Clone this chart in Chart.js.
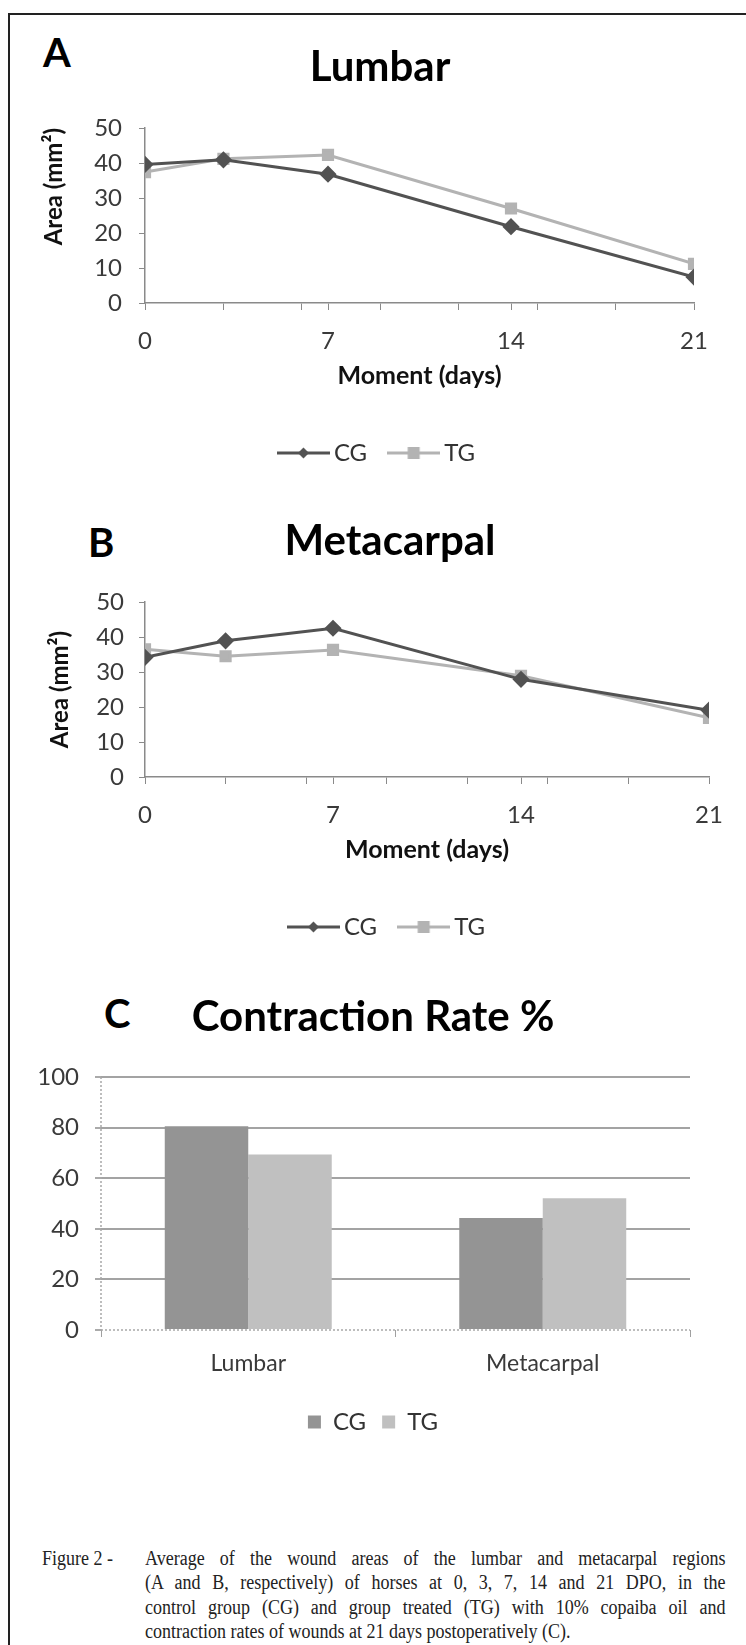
<!DOCTYPE html>
<html>
<head>
<meta charset="utf-8">
<script src="https://cdn.jsdelivr.net/npm/chart.js@4.4.1/dist/chart.umd.min.js"></script>
<style>
  html, body { margin: 0; padding: 0; background: #fff; width: 746px; height: 1645px; overflow: hidden; position: relative; }
  .frame { position: absolute; left: 8px; top: 13px; width: 760px; height: 1700px; border-top: 2px solid #222; border-left: 2px solid #222; }
  .cv { position: absolute; }
  .letter { position: absolute; font-family: Lato, sans-serif; font-weight: bold; font-size: 40px; line-height: 1; color: #000; }
  .cap { position: absolute; font-family: "Liberation Serif", "Times New Roman", serif; font-size: 20px; line-height: 24.3px; color: #222; }
  .capbody { position: absolute; left: 145px; top: 1546px; width: 645px; transform: scaleX(0.9); transform-origin: 0 0; }
  .capbody div { text-align: justify; text-align-last: justify; white-space: nowrap; }
  .capbody div.last { text-align-last: left; }
</style>
</head>
<body>
<div class="frame"></div>
<div class="letter" style="left:43px; top:32px;">A</div>
<div class="letter" style="left:88px; top:522px;">B</div>
<div class="letter" style="left:104px; top:993px;">C</div>

<canvas id="chartA" class="cv" style="left:20px; top:14px;" width="720" height="461"></canvas>
<canvas id="chartB" class="cv" style="left:30px; top:488px;" width="720" height="461"></canvas>
<canvas id="chartC" class="cv" style="left:20px; top:960px;" width="706" height="484"></canvas>

<div class="cap" style="left:42px; top:1546px; transform:scaleX(0.9); transform-origin:0 0;">Figure 2 -</div>
<div class="cap capbody">
  <div>Average of the wound areas of the lumbar and metacarpal regions</div>
  <div>(A and B, respectively) of horses at 0, 3, 7, 14 and 21 DPO, in the</div>
  <div>control group (CG) and group treated (TG) with 10% copaiba oil and</div>
  <div class="last">contraction rates of wounds at 21 days postoperatively (C).</div>
</div>

<script>
// data
var days = [0, 3, 7, 14, 21];
var lumbarCG = [39.6, 40.9, 36.8, 21.8, 7.4];
var lumbarTG = [37.4, 41.2, 42.3, 27.0, 11.2];
var metaCG = [34.2, 38.9, 42.5, 27.9, 19.1];
var metaTG = [36.5, 34.5, 36.3, 28.9, 16.9];
var xTickMarks = [0, 3, 6, 7, 9, 12, 14, 15, 18, 21];
var xTickLabels = [0, 7, 14, 21];
var rateCats = ['Lumbar', 'Metacarpal'];
var rateCG = [80.5, 44.3];
var rateTG = [69.4, 52.1];

var cgColor = '#525252';
var tgColor = '#b3b3b3';
var axisColor = '#8a8a8a';
var tickFont = { family: 'Lato', size: 24 };
var tickColor = '#3a3a3a';
var titleFont = { family: 'Lato', size: 42, weight: 'bold' };

Chart.defaults.font.family = 'Lato';
Chart.defaults.animation = false;

function toPoints(vals) {
    return vals.map(function (v, i) { return { x: days[i], y: v }; });
}

// empty axis on the right: keeps space there while title and legend stay centred on the canvas
function spacerAxis(w) {
    return {
        type: 'linear', position: 'right', display: true,
        ticks: { display: false }, grid: { display: false }, border: { display: false },
        afterFit: function (scale) { scale.width = w; }
    };
}

// small picture of line + marker for the legend
function legendMark(color, style) {
    var c = document.createElement('canvas');
    c.width = 53; c.height = 14;
    var g = c.getContext('2d');
    g.strokeStyle = color; g.lineWidth = 3;
    g.beginPath(); g.moveTo(0, 7); g.lineTo(53, 7); g.stroke();
    g.fillStyle = color;
    if (style === 'diamond') {
        g.beginPath(); g.moveTo(26.5, 1.5); g.lineTo(32, 7); g.lineTo(26.5, 12.5); g.lineTo(21, 7); g.closePath(); g.fill();
    } else {
        g.fillRect(20.5, 1, 12, 12);
    }
    return c;
}

function lineChart(id, title, cg, tg, yWidth, yTitlePad, yTickPad, rightW, yTitleAlign) {
    var marks = [legendMark(cgColor, 'diamond'), legendMark(tgColor, 'square')];
    return new Chart(document.getElementById(id), {
        type: 'line',
        data: {
            datasets: [{
                label: 'CG',
                data: toPoints(cg),
                xAxisID: 'x', yAxisID: 'y',
                borderColor: cgColor,
                backgroundColor: cgColor,
                borderWidth: 3,
                pointStyle: 'rectRot',
                pointRadius: 6.5,
                tension: 0
            }, {
                label: 'TG',
                data: toPoints(tg),
                xAxisID: 'x', yAxisID: 'y',
                borderColor: tgColor,
                backgroundColor: tgColor,
                borderWidth: 3,
                pointStyle: 'rect',
                pointRadius: 6.5,
                tension: 0
            }]
        },
        options: {
            responsive: false,
            layout: { padding: 0 },
            plugins: {
                title: {
                    display: true,
                    text: title,
                    color: '#000',
                    font: titleFont,
                    padding: { top: 28, bottom: 35.6 }
                },
                legend: {
                    position: 'bottom',
                    labels: {
                        usePointStyle: true,
                        pointStyleWidth: 37,
                        padding: 28,
                        color: '#333',
                        font: { family: 'Lato', size: 24 },
                        generateLabels: function (chart) {
                            return chart.data.datasets.map(function (ds, i) {
                                return { text: ds.label, pointStyle: marks[i], fillStyle: ds.borderColor,
                                         strokeStyle: ds.borderColor, lineWidth: 0, fontColor: '#333', datasetIndex: i };
                            });
                        }
                    }
                },
                tooltip: { enabled: false }
            },
            scales: {
                x: {
                    type: 'linear',
                    min: 0, max: 21,
                    afterBuildTicks: function (axis) {
                        axis.ticks = xTickMarks.map(function (v) { return { value: v }; });
                    },
                    afterFit: function (scale) { scale.height = 110; },
                    ticks: {
                        autoSkip: false,
                        maxRotation: 0,
                        padding: 17,
                        color: tickColor,
                        font: tickFont,
                        callback: function (v) { return xTickLabels.indexOf(v) >= 0 ? String(v) : ''; }
                    },
                    grid: { drawOnChartArea: false, drawTicks: true, tickLength: 7, color: axisColor },
                    border: { color: axisColor, width: 1.5 },
                    title: {
                        display: true,
                        text: 'Moment (days)',
                        color: '#111',
                        font: { family: 'Lato', size: 25, weight: 'bold' },
                        padding: { top: 8, bottom: 22 }
                    }
                },
                y: {
                    min: 0, max: 50,
                    afterFit: function (scale) { scale.width = yWidth; },
                    ticks: { stepSize: 10, padding: yTickPad, color: tickColor, font: tickFont },
                    grid: { drawOnChartArea: false, drawTicks: true, tickLength: 6, color: axisColor },
                    border: { color: axisColor, width: 1.5 },
                    title: {
                        display: true,
                        text: 'Area (mm²)',
                        align: yTitleAlign,
                        color: '#111',
                        font: { family: 'Lato', size: 24, weight: 'bold' },
                        padding: { top: yTitlePad, bottom: 0 }
                    }
                },
                yR: spacerAxis(rightW)
            }
        }
    });
}

lineChart('chartA', 'Lumbar', lumbarCG, lumbarTG, 125, 20, 17, 46, 'end');
lineChart('chartB', 'Metacarpal', metaCG, metaTG, 115, 16, 15, 41, 'center');

// dotted axis lines of the bar chart
var dottedAxes = {
    id: 'dottedAxes',
    beforeDatasetsDraw: function (chart) {
        var a = chart.chartArea, g = chart.ctx;
        g.save();
        g.strokeStyle = '#a8a8a8';
        g.lineWidth = 1.5;
        g.setLineDash([2, 2]);
        g.beginPath();
        g.moveTo(a.left, a.top); g.lineTo(a.left, a.bottom);
        g.moveTo(a.left, a.bottom); g.lineTo(a.right, a.bottom);
        g.stroke();
        g.restore();
    }
};

new Chart(document.getElementById('chartC'), {
    type: 'bar',
    plugins: [dottedAxes],
    data: {
        labels: rateCats,
        datasets: [
            { label: 'CG', data: rateCG, xAxisID: 'x', yAxisID: 'y', backgroundColor: '#949494', borderWidth: 0 },
            { label: 'TG', data: rateTG, xAxisID: 'x', yAxisID: 'y', backgroundColor: '#c0c0c0', borderWidth: 0 }
        ]
    },
    options: {
        responsive: false,
        layout: { padding: 0 },
        datasets: { bar: { categoryPercentage: 0.567, barPercentage: 1.0 } },
        plugins: {
            title: {
                display: true,
                text: 'Contraction Rate %',
                color: '#000',
                font: titleFont,
                padding: { top: 32, bottom: 34.6 }
            },
            legend: {
                position: 'bottom',
                labels: {
                    boxWidth: 13, boxHeight: 13,
                    padding: 16,
                    color: '#333',
                    font: { family: 'Lato', size: 24 }
                }
            },
            tooltip: { enabled: false }
        },
        scales: {
            x: {
                afterFit: function (scale) { scale.height = 64; },
                ticks: { padding: 13, color: tickColor, font: { family: 'Lato', size: 23 } },
                grid: { drawOnChartArea: false, drawTicks: true, tickLength: 7, color: '#a0a0a0' },
                border: { display: false }
            },
            y: {
                min: 0, max: 100,
                afterFit: function (scale) { scale.width = 81; },
                ticks: { stepSize: 20, padding: 16, color: tickColor, font: tickFont },
                grid: {
                    lineWidth: 2,
                    tickLength: 6,
                    color: function (ctx) { return ctx.tick && ctx.tick.value === 0 ? 'rgba(0,0,0,0)' : '#a3a3a3'; },
                    tickColor: '#aaa'
                },
                border: { display: false }
            },
            yR: spacerAxis(36)
        }
    }
});
</script>
</body>
</html>
